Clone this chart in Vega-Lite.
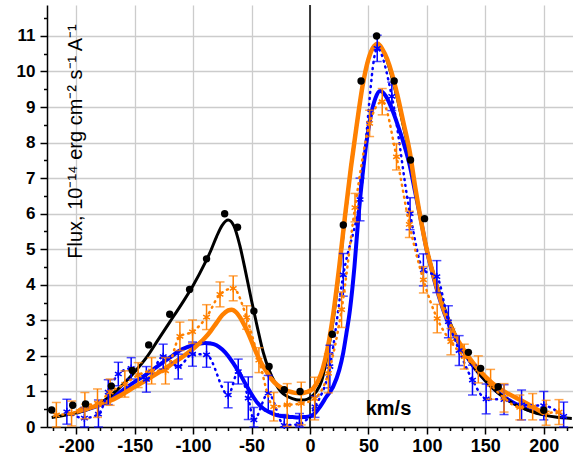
{
  "$schema": "https://vega.github.io/schema/vega-lite/v6.json",
  "width": 526,
  "height": 422,
  "autosize": "none",
  "padding": {"left": 47, "top": 5, "right": 0, "bottom": 37},
  "config": {"view": {"stroke": null}, "font": "Liberation Sans"},
  "datasets": {
    "zero": [{"x": 0, "y": 0, "y2": 11.87}],
    "bdots": [
      {"x": -221, "y": 0.48}, {"x": -203, "y": 0.61}, {"x": -192, "y": 0.65}, {"x": -170, "y": 1.15},
      {"x": -152, "y": 1.59}, {"x": -138, "y": 2.31}, {"x": -120, "y": 3.17}, {"x": -103, "y": 3.87},
      {"x": -88.5, "y": 4.73}, {"x": -73, "y": 6.0}, {"x": -62, "y": 5.62}, {"x": -48, "y": 3.26},
      {"x": -35, "y": 1.7}, {"x": -22, "y": 1.05}, {"x": -8.5, "y": 1.0}, {"x": 19, "y": 2.61},
      {"x": 28.5, "y": 5.68}, {"x": 43.7, "y": 9.73}, {"x": 57, "y": 11.0}, {"x": 72, "y": 9.73},
      {"x": 86, "y": 7.51}, {"x": 98, "y": 5.86}, {"x": 135.5, "y": 2.1}, {"x": 146, "y": 1.65},
      {"x": 161, "y": 1.13}, {"x": 200, "y": 0.47}
    ],
    "bfit": [
      {"x": -221, "y": 0.27}, {"x": -210, "y": 0.33}, {"x": -200, "y": 0.4}, {"x": -190, "y": 0.5},
      {"x": -180, "y": 0.65}, {"x": -170, "y": 0.9}, {"x": -160, "y": 1.2}, {"x": -150, "y": 1.55},
      {"x": -140, "y": 1.95}, {"x": -130, "y": 2.45}, {"x": -120, "y": 2.95}, {"x": -110, "y": 3.45},
      {"x": -100, "y": 3.98}, {"x": -90, "y": 4.6}, {"x": -85, "y": 4.95}, {"x": -80, "y": 5.35},
      {"x": -75, "y": 5.68}, {"x": -70, "y": 5.82}, {"x": -65, "y": 5.65}, {"x": -60, "y": 5.1},
      {"x": -55, "y": 4.35}, {"x": -50, "y": 3.55}, {"x": -45, "y": 2.8}, {"x": -40, "y": 2.1},
      {"x": -35, "y": 1.6}, {"x": -30, "y": 1.25}, {"x": -25, "y": 1.0}, {"x": -20, "y": 0.87},
      {"x": -15, "y": 0.8}, {"x": -10, "y": 0.76}, {"x": -5, "y": 0.76}, {"x": 0, "y": 0.82},
      {"x": 5, "y": 0.98}, {"x": 10, "y": 1.3}, {"x": 15, "y": 2.05}, {"x": 20, "y": 3.05},
      {"x": 25, "y": 4.4}, {"x": 30, "y": 5.9}, {"x": 35, "y": 7.3}, {"x": 40, "y": 8.5},
      {"x": 45, "y": 9.6}, {"x": 50, "y": 10.35}, {"x": 55, "y": 10.72}, {"x": 58, "y": 10.78},
      {"x": 62, "y": 10.62}, {"x": 66, "y": 10.3}, {"x": 70, "y": 9.85}, {"x": 75, "y": 9.2},
      {"x": 80, "y": 8.45}, {"x": 85, "y": 7.7}, {"x": 90, "y": 6.7}, {"x": 95, "y": 5.8},
      {"x": 100, "y": 5.0}, {"x": 105, "y": 4.4}, {"x": 110, "y": 3.85}, {"x": 115, "y": 3.35},
      {"x": 120, "y": 2.92}, {"x": 130, "y": 2.22}, {"x": 140, "y": 1.7}, {"x": 150, "y": 1.3},
      {"x": 160, "y": 0.98}, {"x": 170, "y": 0.74}, {"x": 180, "y": 0.56}, {"x": 190, "y": 0.43},
      {"x": 200, "y": 0.34}, {"x": 210, "y": 0.28}, {"x": 224, "y": 0.24}
    ],
    "ofit": [
      {"x": -200, "y": 0.43}, {"x": -190, "y": 0.52}, {"x": -180, "y": 0.62}, {"x": -170, "y": 0.75},
      {"x": -160, "y": 0.93}, {"x": -150, "y": 1.13}, {"x": -140, "y": 1.32}, {"x": -130, "y": 1.52},
      {"x": -120, "y": 1.73}, {"x": -110, "y": 1.95}, {"x": -100, "y": 2.2}, {"x": -90, "y": 2.5},
      {"x": -85, "y": 2.7}, {"x": -80, "y": 2.93}, {"x": -75, "y": 3.15}, {"x": -70, "y": 3.28},
      {"x": -67, "y": 3.3}, {"x": -63, "y": 3.22}, {"x": -58, "y": 2.98}, {"x": -53, "y": 2.65},
      {"x": -48, "y": 2.25}, {"x": -43, "y": 1.88}, {"x": -38, "y": 1.6}, {"x": -33, "y": 1.35},
      {"x": -28, "y": 1.18}, {"x": -23, "y": 1.07}, {"x": -18, "y": 1.0}, {"x": -13, "y": 0.96},
      {"x": -8, "y": 0.95}, {"x": -3, "y": 0.98}, {"x": 0, "y": 1.02}, {"x": 3, "y": 1.1},
      {"x": 7, "y": 1.3}, {"x": 11, "y": 1.65}, {"x": 15, "y": 2.2}, {"x": 20, "y": 3.2},
      {"x": 25, "y": 4.5}, {"x": 30, "y": 5.95}, {"x": 35, "y": 7.3}, {"x": 40, "y": 8.5},
      {"x": 45, "y": 9.6}, {"x": 50, "y": 10.35}, {"x": 55, "y": 10.72}, {"x": 58, "y": 10.78},
      {"x": 62, "y": 10.62}, {"x": 66, "y": 10.35}, {"x": 70, "y": 9.95}, {"x": 75, "y": 9.3},
      {"x": 80, "y": 8.55}, {"x": 85, "y": 7.8}, {"x": 90, "y": 6.75}, {"x": 95, "y": 5.8},
      {"x": 100, "y": 4.98}, {"x": 105, "y": 4.35}, {"x": 110, "y": 3.76}, {"x": 115, "y": 3.25},
      {"x": 120, "y": 2.85}, {"x": 130, "y": 2.25}, {"x": 140, "y": 1.78}, {"x": 150, "y": 1.42},
      {"x": 160, "y": 1.13}, {"x": 170, "y": 0.93}, {"x": 180, "y": 0.76}, {"x": 190, "y": 0.58},
      {"x": 200, "y": 0.38}
    ],
    "blfit": [
      {"x": -200, "y": 0.4}, {"x": -190, "y": 0.5}, {"x": -180, "y": 0.62}, {"x": -170, "y": 0.81},
      {"x": -160, "y": 1.04}, {"x": -150, "y": 1.27}, {"x": -140, "y": 1.48}, {"x": -130, "y": 1.72},
      {"x": -120, "y": 1.95}, {"x": -110, "y": 2.18}, {"x": -100, "y": 2.3}, {"x": -90, "y": 2.36},
      {"x": -85, "y": 2.35}, {"x": -80, "y": 2.3}, {"x": -75, "y": 2.18}, {"x": -70, "y": 2.0},
      {"x": -65, "y": 1.76}, {"x": -60, "y": 1.5}, {"x": -55, "y": 1.2}, {"x": -50, "y": 0.92},
      {"x": -45, "y": 0.68}, {"x": -40, "y": 0.52}, {"x": -35, "y": 0.42}, {"x": -30, "y": 0.35},
      {"x": -25, "y": 0.31}, {"x": -20, "y": 0.29}, {"x": -15, "y": 0.28}, {"x": -10, "y": 0.27},
      {"x": -5, "y": 0.28}, {"x": 0, "y": 0.3}, {"x": 4, "y": 0.38}, {"x": 8.6, "y": 0.57},
      {"x": 14, "y": 0.85}, {"x": 20, "y": 1.15}, {"x": 25, "y": 1.6}, {"x": 28.5, "y": 2.1},
      {"x": 31, "y": 2.6}, {"x": 34.2, "y": 3.3}, {"x": 38, "y": 4.5}, {"x": 41.4, "y": 5.9},
      {"x": 45, "y": 7.1}, {"x": 48.5, "y": 8.05}, {"x": 52, "y": 8.75}, {"x": 56, "y": 9.25},
      {"x": 60, "y": 9.45}, {"x": 65, "y": 9.3}, {"x": 70, "y": 8.95}, {"x": 75, "y": 8.5},
      {"x": 80, "y": 8.0}, {"x": 85, "y": 7.4}, {"x": 90, "y": 6.6}, {"x": 95, "y": 5.8},
      {"x": 100, "y": 4.95}, {"x": 105, "y": 4.3}, {"x": 110, "y": 3.7}, {"x": 115, "y": 3.2},
      {"x": 120, "y": 2.8}, {"x": 130, "y": 2.2}, {"x": 140, "y": 1.7}, {"x": 150, "y": 1.32},
      {"x": 160, "y": 1.0}, {"x": 170, "y": 0.76}, {"x": 180, "y": 0.58}, {"x": 190, "y": 0.45},
      {"x": 200, "y": 0.36}
    ],
    "opts": [
      {"x": -217, "y": 0.34, "e": 0.35}, {"x": -204, "y": 0.38, "e": 0.35}, {"x": -192.6, "y": 0.6, "e": 0.37},
      {"x": -181.8, "y": 0.67, "e": 0.4}, {"x": -171, "y": 0.98, "e": 0.37}, {"x": -158.4, "y": 1.21, "e": 0.37},
      {"x": -147, "y": 1.46, "e": 0.35}, {"x": -135.5, "y": 1.58, "e": 0.37}, {"x": -123.6, "y": 1.58, "e": 0.37},
      {"x": -111.3, "y": 2.55, "e": 0.4}, {"x": -100.5, "y": 2.68, "e": 0.33}, {"x": -88.5, "y": 3.09, "e": 0.35},
      {"x": -77, "y": 3.73, "e": 0.35}, {"x": -65.7, "y": 3.9, "e": 0.35}, {"x": -54.2, "y": 3.08, "e": 0.33},
      {"x": -43.7, "y": 1.88, "e": 0.35}, {"x": -31, "y": 0.57, "e": 0.4}, {"x": -19.5, "y": 0.62, "e": 0.6},
      {"x": -7.5, "y": 0.66, "e": 0.6}, {"x": 4, "y": 0.8, "e": 0.6}, {"x": 15.7, "y": 1.51, "e": 0.55},
      {"x": 27, "y": 3.3, "e": 0.5}, {"x": 38.5, "y": 6.17, "e": 0.4}, {"x": 51, "y": 8.54, "e": 0.37},
      {"x": 61.8, "y": 9.15, "e": 0.37}, {"x": 74, "y": 7.6, "e": 0.37}, {"x": 85, "y": 5.7, "e": 0.37},
      {"x": 97, "y": 4.14, "e": 0.37}, {"x": 108.8, "y": 3.05, "e": 0.4}, {"x": 120.5, "y": 2.4, "e": 0.37},
      {"x": 132, "y": 1.98, "e": 0.35}, {"x": 144, "y": 1.62, "e": 0.38}, {"x": 154.5, "y": 1.2, "e": 0.42},
      {"x": 166, "y": 0.82, "e": 0.4}, {"x": 179.5, "y": 0.55, "e": 0.35}, {"x": 190.5, "y": 0.57, "e": 0.37},
      {"x": 202, "y": 0.4, "e": 0.35}, {"x": 213, "y": 0.42, "e": 0.35}
    ],
    "blpts": [
      {"x": -208, "y": 0.43, "e": 0.35}, {"x": -193, "y": 0.25, "e": 0.3}, {"x": -181, "y": 0.36, "e": 0.4},
      {"x": -172.6, "y": 0.98, "e": 0.35}, {"x": -164, "y": 1.49, "e": 0.33}, {"x": -153, "y": 1.65, "e": 0.3},
      {"x": -140, "y": 1.34, "e": 0.36}, {"x": -125.6, "y": 1.98, "e": 0.35}, {"x": -112.7, "y": 1.7, "e": 0.35},
      {"x": -100.5, "y": 2.05, "e": 0.34}, {"x": -88.5, "y": 2.03, "e": 0.35}, {"x": -70, "y": 0.9, "e": 0.36},
      {"x": -61.4, "y": 1.56, "e": 0.35}, {"x": -52.8, "y": 0.81, "e": 0.6}, {"x": -48, "y": 0.2, "e": 0.35},
      {"x": -35.7, "y": 0.95, "e": 0.5}, {"x": -22, "y": 0.05, "e": 0.3}, {"x": -9, "y": 0.08, "e": 0.3},
      {"x": 4.3, "y": 0.57, "e": 0.3}, {"x": 17, "y": 1.7, "e": 0.6}, {"x": 28.5, "y": 4.28, "e": 0.6},
      {"x": 42.8, "y": 6.4, "e": 0.6}, {"x": 57.5, "y": 10.65, "e": 0.37}, {"x": 70, "y": 9.3, "e": 0.4},
      {"x": 85.6, "y": 6.0, "e": 0.45}, {"x": 97, "y": 4.42, "e": 0.45}, {"x": 108.5, "y": 4.23, "e": 0.45},
      {"x": 118.4, "y": 2.96, "e": 0.45}, {"x": 127.6, "y": 2.15, "e": 0.42}, {"x": 139, "y": 1.32, "e": 0.42},
      {"x": 150.7, "y": 0.79, "e": 0.42}, {"x": 166, "y": 0.77, "e": 0.42}, {"x": 181, "y": 0.62, "e": 0.42},
      {"x": 200, "y": 0.6, "e": 0.4}, {"x": 217, "y": 0.3, "e": 0.4}
    ]
  },
  "layer": [
    {
      "data": {"name": "blfit"},
      "mark": {"type": "line", "color": "#0000ff", "strokeWidth": 4, "interpolate": "monotone"},
      "encoding": {
        "x": {"field": "x", "type": "quantitative",
          "scale": {"domain": [-225, 225], "nice": false, "zero": false},
          "axis": {"orient": "bottom", "values": [-220, -210, -190, -180, -170, -160, -140, -130, -120, -110, -90, -80, -70, -60, -40, -30, -20, -10, 10, 20, 30, 40, 60, 70, 80, 90, 110, 120, 130, 140, 160, 170, 180, 190, 210, 220],
            "labels": false, "grid": false, "domain": false, "ticks": true, "tickSize": 3.5, "tickColor": "black", "tickWidth": 1.5, "title": null}},
        "y": {"field": "y", "type": "quantitative",
          "scale": {"domain": [0, 11.87], "nice": false, "zero": false, "clamp": true},
          "axis": {"orient": "left", "values": [0.5, 1.5, 2.5, 3.5, 4.5, 5.5, 6.5, 7.5, 8.5, 9.5, 10.5, 11.5],
            "labels": false, "grid": false, "domain": false, "ticks": true, "tickSize": 3.5, "tickColor": "black", "tickWidth": 1.5, "title": null}}
      }
    },
    {
      "encoding": {
        "x": {"field": "x", "type": "quantitative",
          "scale": {"domain": [-225, 225], "nice": false, "zero": false},
          "axis": {"orient": "bottom", "values": [-200, -150, -100, -50, 0, 50, 100, 150, 200],
            "labelExpr": "replace(datum.label, '−', '-')",
            "grid": true, "gridColor": "#cccccc", "gridWidth": 1.3,
            "domainColor": "black", "domainWidth": 1.5, "tickColor": "black", "tickWidth": 1.5, "tickSize": 7,
            "labelFont": "Liberation Sans", "labelFontSize": 18, "labelFontWeight": "bold", "labelColor": "black", "labelPadding": 3, "labelFlush": false,
            "title": "km/s", "titleFont": "Liberation Sans", "titleFontSize": 20, "titleFontWeight": "bold", "titleColor": "black",
            "titleX": 341, "titleY": -19, "titleBaseline": "middle", "titleAlign": "center"}},
        "y": {"field": "y", "type": "quantitative",
          "scale": {"domain": [0, 11.87], "nice": false, "zero": false, "clamp": true},
          "axis": {"orient": "left", "values": [0, 1, 2, 3, 4, 5, 6, 7, 8, 9, 10, 11],
            "grid": true, "gridColor": "#cccccc", "gridWidth": 1.3,
            "domainColor": "black", "domainWidth": 1.5, "tickColor": "black", "tickWidth": 1.5, "tickSize": 7,
            "labelFont": "Liberation Sans", "labelFontSize": 17, "labelFontWeight": "bold", "labelColor": "black", "labelPadding": 5,
            "title": "Flux, 10⁻¹⁴ erg cm⁻² s⁻¹ A⁻¹", "titleFont": "Liberation Sans", "titleFontSize": 20, "titleFontWeight": "normal", "titleColor": "black",
            "titleAngle": -90, "titleX": 28, "titleY": 136, "titleBaseline": "middle", "titleAlign": "center"}}
      },
      "layer": [
        {"data": {"name": "zero"}, "mark": {"type": "rule", "color": "black", "strokeWidth": 1.5},
          "encoding": {"y2": {"field": "y2"}}},
        {"data": {"name": "bfit"}, "mark": {"type": "line", "color": "black", "strokeWidth": 3, "interpolate": "monotone"}, "encoding": {}},
        {"data": {"name": "ofit"}, "mark": {"type": "line", "color": "#ff8000", "strokeWidth": 4.5, "interpolate": "monotone"}, "encoding": {}},
        {"data": {"name": "blpts"}, "mark": {"type": "errorbar", "ticks": {"size": 9, "thickness": 1.5}, "color": "#0000ff", "thickness": 1.5},
          "encoding": {"yError": {"field": "e"}}},
        {"data": {"name": "blpts"}, "mark": {"type": "line", "color": "#0000ff", "strokeWidth": 2.5, "strokeDash": [1, 5], "strokeCap": "round", "interpolate": "monotone"}, "encoding": {}},
        {"data": {"name": "blpts"}, "mark": {"type": "point", "shape": "M0,-1L0,1M-0.87,-0.5L0.87,0.5M-0.87,0.5L0.87,-0.5", "filled": false, "color": "#0000ff", "strokeWidth": 1.5, "size": 60, "opacity": 1}, "encoding": {}},
        {"data": {"name": "opts"}, "mark": {"type": "errorbar", "ticks": {"size": 9, "thickness": 1.5}, "color": "#ff8000", "thickness": 1.5},
          "encoding": {"yError": {"field": "e"}}},
        {"data": {"name": "opts"}, "mark": {"type": "line", "color": "#ff8000", "strokeWidth": 2.5, "strokeDash": [1, 5], "strokeCap": "round", "interpolate": "monotone"}, "encoding": {}},
        {"data": {"name": "opts"}, "mark": {"type": "point", "shape": "M0,-1L0,1M-0.87,-0.5L0.87,0.5M-0.87,0.5L0.87,-0.5", "filled": false, "color": "#ff8000", "strokeWidth": 1.5, "size": 60, "opacity": 1}, "encoding": {}},
        {"data": {"name": "bdots"}, "mark": {"type": "circle", "color": "black", "size": 55, "opacity": 1}, "encoding": {}}
      ]
    }
  ],
  "resolve": {"axis": {"x": "independent", "y": "independent"}}
}
